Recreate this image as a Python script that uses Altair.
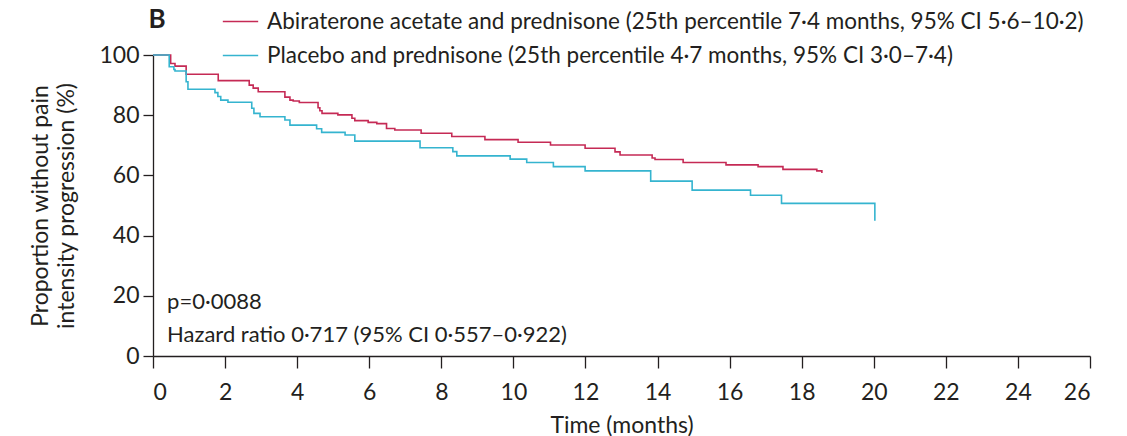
import altair as alt
import pandas as pd

# Kaplan-Meier step data
abi_t = [0, 0.49, 0.61, 0.92, 1.81, 2.67, 2.78, 2.92, 3.66, 3.80, 3.89, 4.06, 4.58, 4.63, 4.69,
         5.13, 5.52, 5.60, 5.97, 6.21, 6.48, 6.71, 7.44, 8.29, 9.21, 10.13, 11.03, 11.99, 12.82,
         12.96, 13.85, 13.93, 14.71, 15.90, 16.79, 17.48, 18.42, 18.56]
abi_s = [100, 97.2, 96.3, 93.6, 91.5, 90.0, 89.0, 87.8, 86.0, 85.0, 84.7, 84.2, 82.5, 81.5, 80.6,
         80.1, 79.0, 78.2, 77.6, 77.2, 75.6, 75.1, 74.0, 72.9, 71.9, 71.0, 70.1, 69.0, 67.8,
         66.8, 65.8, 65.3, 64.3, 63.5, 62.9, 62.0, 61.5, 60.8]

plac_t = [0, 0.45, 0.58, 0.61, 0.92, 0.97, 1.72, 1.80, 1.88, 2.08, 2.74, 2.80, 2.97, 3.66, 3.80,
          4.54, 4.68, 5.33, 5.60, 7.41, 8.32, 8.43, 9.91, 10.37, 11.11, 11.99, 13.81, 14.96,
          16.58, 17.44, 20.03]
plac_s = [100, 96.1, 95.2, 94.7, 91.1, 88.6, 87.5, 86.2, 85.0, 84.3, 82.3, 80.6, 79.5, 78.4, 76.7,
          75.5, 74.3, 73.4, 71.4, 69.2, 67.9, 66.5, 65.4, 64.3, 62.9, 61.5, 58.1, 55.1,
          53.4, 50.7, 44.9]

series_names = [
    "Abiraterone acetate and prednisone (25th percentile 7·4 months, 95% CI 5·6–10·2)",
    "Placebo and prednisone (25th percentile 4·7 months, 95% CI 3·0–7·4)",
]
series_colors = ["#c52a55", "#35b4cf"]

x_ticks = list(range(0, 27, 2))
y_ticks = [0, 20, 40, 60, 80, 100]

panel_label = "B"
annot_p = "p=0·0088"
annot_hr = "Hazard ratio 0·717 (95% CI 0·557–0·922)"

df = pd.concat([
    pd.DataFrame({"t": abi_t, "s": abi_s, "arm": series_names[0], "o": range(len(abi_t))}),
    pd.DataFrame({"t": plac_t, "s": plac_s, "arm": series_names[1], "o": range(len(plac_t))}),
])

FONT = "Lato"
TXT = "#231f20"

x_enc = alt.X("t:Q", scale=alt.Scale(domain=[0, 26], nice=False),
              axis=alt.Axis(values=x_ticks, title="Time (months)", tickSize=12,
                            labelPadding=13, titlePadding=10, format="d"))
y_enc = alt.Y("s:Q", scale=alt.Scale(domain=[0, 100], nice=False),
              axis=alt.Axis(values=y_ticks, title=["Proportion without pain", "intensity progression (%)"],
                            tickSize=10, labelPadding=4, titlePadding=20, titleLineHeight=26))

lines = alt.Chart(df).mark_line(interpolate="step-after", strokeWidth=1.6).encode(
    x=x_enc, y=y_enc, order="o:Q",
    color=alt.Color("arm:N",
                    scale=alt.Scale(domain=series_names, range=series_colors),
                    legend=alt.Legend(title=None, orient="none", legendX=69, legendY=-52,
                                      symbolType="stroke", symbolSize=1250, symbolStrokeWidth=1.6,
                                      labelFontSize=22.5, labelFont=FONT, labelColor=TXT,
                                      labelLimit=1000, rowPadding=4, padding=0, labelOffset=8)),
)

ann1 = alt.Chart().mark_text(align="left", baseline="middle", fontSize=22, font=FONT, color=TXT).encode(
    x=alt.datum(0.39), y=alt.datum(18.0), text=alt.value(annot_p))
ann2 = alt.Chart().mark_text(align="left", baseline="middle", fontSize=22, font=FONT, color=TXT).encode(
    x=alt.datum(0.39), y=alt.datum(7.0), text=alt.value(annot_hr))
lab = alt.Chart().mark_text(align="center", baseline="middle", fontSize=26, fontWeight="bold",
                            font=FONT, color=TXT).encode(
    x=alt.value(4), y=alt.value(-35), text=alt.value(panel_label))

chart = alt.layer(lines, ann1, ann2, lab).properties(
    width=937, height=301,
    autosize=alt.AutoSizeParams(type="none"),
    padding={"left": 153, "top": 55, "right": 37, "bottom": 80},
    background="white",
).configure_view(stroke=None).configure_axis(
    grid=False, domainColor="#231f20", tickColor="#231f20", domainWidth=1.3, tickWidth=1.3,
    labelFont=FONT, labelFontSize=23, labelColor=TXT,
    titleFont=FONT, titleFontSize=23, titleColor=TXT, titleFontWeight="normal",
)

chart.save("out.html", embed_options={"renderer": "svg", "actions": False})
